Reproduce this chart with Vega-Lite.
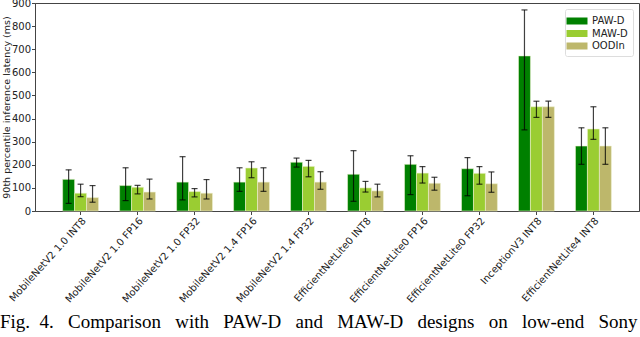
{
  "$schema": "https://vega.github.io/schema/vega-lite/v6.json",
  "width": 604,
  "height": 208,
  "autosize": {"type": "none"},
  "padding": {"left": 35, "top": 3, "right": 1, "bottom": 126},
  "background": "white",
  "config": {
    "font": "DejaVu Sans",
    "view": {"stroke": "#444", "strokeWidth": 1},
    "axis": {"grid": false, "domainColor": "#444", "tickColor": "#444", "labelColor": "#222", "titleColor": "#222", "labelFont": "DejaVu Sans", "titleFont": "DejaVu Sans", "titleFontWeight": "normal"}
  },
  "title": {
    "text": "Fig.\u00a0\u00a04.\u00a0\u00a0\u00a0Comparison\u00a0\u00a0\u00a0with\u00a0\u00a0\u00a0PAW-D\u00a0\u00a0\u00a0and\u00a0\u00a0\u00a0MAW-D\u00a0\u00a0\u00a0designs\u00a0\u00a0\u00a0on\u00a0\u00a0\u00a0low-end\u00a0\u00a0\u00a0Sony",
    "orient": "bottom",
    "anchor": "start",
    "frame": "group",
    "dx": -35,
    "font": "Liberation Serif",
    "fontSize": 19,
    "fontWeight": "normal",
    "color": "black",
    "offset": 9
  },
  "data": {
    "values": [
      {"model": "MobileNetV2 1.0 INT8", "method": "PAW-D", "value": 137, "lo": 33, "hi": 178},
      {"model": "MobileNetV2 1.0 INT8", "method": "MAW-D", "value": 77, "lo": 62, "hi": 116},
      {"model": "MobileNetV2 1.0 INT8", "method": "OODIn", "value": 58, "lo": 38, "hi": 110},
      {"model": "MobileNetV2 1.0 FP16", "method": "PAW-D", "value": 110, "lo": 45, "hi": 187},
      {"model": "MobileNetV2 1.0 FP16", "method": "MAW-D", "value": 103, "lo": 74, "hi": 111},
      {"model": "MobileNetV2 1.0 FP16", "method": "OODIn", "value": 82, "lo": 52, "hi": 138},
      {"model": "MobileNetV2 1.0 FP32", "method": "PAW-D", "value": 125, "lo": 48, "hi": 235},
      {"model": "MobileNetV2 1.0 FP32", "method": "MAW-D", "value": 84, "lo": 61, "hi": 97},
      {"model": "MobileNetV2 1.0 FP32", "method": "OODIn", "value": 77, "lo": 52, "hi": 136},
      {"model": "MobileNetV2 1.4 FP16", "method": "PAW-D", "value": 125, "lo": 85, "hi": 187},
      {"model": "MobileNetV2 1.4 FP16", "method": "MAW-D", "value": 186, "lo": 144, "hi": 213},
      {"model": "MobileNetV2 1.4 FP16", "method": "OODIn", "value": 125, "lo": 85, "hi": 187},
      {"model": "MobileNetV2 1.4 FP32", "method": "PAW-D", "value": 211, "lo": 190, "hi": 229},
      {"model": "MobileNetV2 1.4 FP32", "method": "MAW-D", "value": 193, "lo": 148, "hi": 219},
      {"model": "MobileNetV2 1.4 FP32", "method": "OODIn", "value": 125, "lo": 94, "hi": 170},
      {"model": "EfficientNetLite0 INT8", "method": "PAW-D", "value": 159, "lo": 42, "hi": 261},
      {"model": "EfficientNetLite0 INT8", "method": "MAW-D", "value": 100, "lo": 82, "hi": 128},
      {"model": "EfficientNetLite0 INT8", "method": "OODIn", "value": 87, "lo": 61, "hi": 116},
      {"model": "EfficientNetLite0 FP16", "method": "PAW-D", "value": 202, "lo": 71, "hi": 239},
      {"model": "EfficientNetLite0 FP16", "method": "MAW-D", "value": 164, "lo": 121, "hi": 192},
      {"model": "EfficientNetLite0 FP16", "method": "OODIn", "value": 120, "lo": 90, "hi": 146},
      {"model": "EfficientNetLite0 FP32", "method": "PAW-D", "value": 183, "lo": 66, "hi": 231},
      {"model": "EfficientNetLite0 FP32", "method": "MAW-D", "value": 163, "lo": 116, "hi": 192},
      {"model": "EfficientNetLite0 FP32", "method": "OODIn", "value": 118, "lo": 81, "hi": 169},
      {"model": "InceptionV3 INT8", "method": "PAW-D", "value": 671, "lo": 351, "hi": 870},
      {"model": "InceptionV3 INT8", "method": "MAW-D", "value": 451, "lo": 405, "hi": 475},
      {"model": "InceptionV3 INT8", "method": "OODIn", "value": 451, "lo": 405, "hi": 475},
      {"model": "EfficientNetLite4 INT8", "method": "PAW-D", "value": 281, "lo": 202, "hi": 360},
      {"model": "EfficientNetLite4 INT8", "method": "MAW-D", "value": 355, "lo": 310, "hi": 451},
      {"model": "EfficientNetLite4 INT8", "method": "OODIn", "value": 281, "lo": 202, "hi": 360}
    ]
  },
  "encoding": {
    "x": {
      "field": "model", "type": "nominal", "sort": null, "title": null,
      "scale": {"paddingInner": 0.37, "paddingOuter": 0.485},
      "axis": {"labelAngle": -48, "labelAlign": "right", "labelBaseline": "top", "tickSize": 3.5, "labelPadding": 1, "labelLimit": 200, "labelFontSize": 10}
    },
    "xOffset": {"field": "method", "type": "nominal", "sort": ["PAW-D", "MAW-D", "OODIn"]}
  },
  "layer": [
    {
      "mark": {"type": "bar", "stroke": "#eef2d0", "strokeWidth": 0.8, "strokeOpacity": 0.7},
      "encoding": {
        "y": {"field": "value", "type": "quantitative", "title": "90th percentile inference latency (ms)",
          "scale": {"domain": [0, 900], "nice": false},
          "axis": {"values": [0, 100, 200, 300, 400, 500, 600, 700, 800, 900], "labelOverlap": false, "labelFontSize": 10, "tickSize": 3.5, "labelPadding": 1, "titleFontSize": 9.5, "titlePadding": 0}},
        "color": {"field": "method", "type": "nominal", "sort": ["PAW-D", "MAW-D", "OODIn"],
          "scale": {"domain": ["PAW-D", "MAW-D", "OODIn"], "range": ["#008000", "#9acd32", "#bdb76b"]},
          "legend": {"title": null, "orient": "top-right", "offset": 6, "labelFontSize": 10, "labelFont": "DejaVu Sans", "labelColor": "#222",
            "symbolType": "M-1.5,-0.5L1.5,-0.5L1.5,0.5L-1.5,0.5Z", "symbolSize": 196, "symbolStrokeWidth": 0, "symbolOpacity": 1,
            "rowPadding": 0.5, "padding": 5, "strokeColor": "#dddddd", "fillColor": "white", "cornerRadius": 2, "labelOffset": 8}}
      }
    },
    {
      "mark": {"type": "rule", "color": "black", "opacity": 0.75, "strokeWidth": 1.2},
      "encoding": {
        "y": {"field": "lo", "type": "quantitative",
          "axis": {"values": [0, 100, 200, 300, 400, 500, 600, 700, 800, 900], "labelOverlap": false, "labelFontSize": 10, "tickSize": 3.5, "labelPadding": 1, "titleFontSize": 9.5, "titlePadding": 0}},
        "y2": {"field": "hi"}
      }
    },
    {
      "mark": {"type": "tick", "color": "black", "opacity": 0.75, "size": 6, "thickness": 1.2},
      "encoding": {"y": {"field": "lo", "type": "quantitative",
          "axis": {"values": [0, 100, 200, 300, 400, 500, 600, 700, 800, 900], "labelOverlap": false, "labelFontSize": 10, "tickSize": 3.5, "labelPadding": 1, "titleFontSize": 9.5, "titlePadding": 0}}}
    },
    {
      "mark": {"type": "tick", "color": "black", "opacity": 0.75, "size": 6, "thickness": 1.2},
      "encoding": {"y": {"field": "hi", "type": "quantitative",
          "axis": {"values": [0, 100, 200, 300, 400, 500, 600, 700, 800, 900], "labelOverlap": false, "labelFontSize": 10, "tickSize": 3.5, "labelPadding": 1, "titleFontSize": 9.5, "titlePadding": 0}}}
    }
  ]
}
